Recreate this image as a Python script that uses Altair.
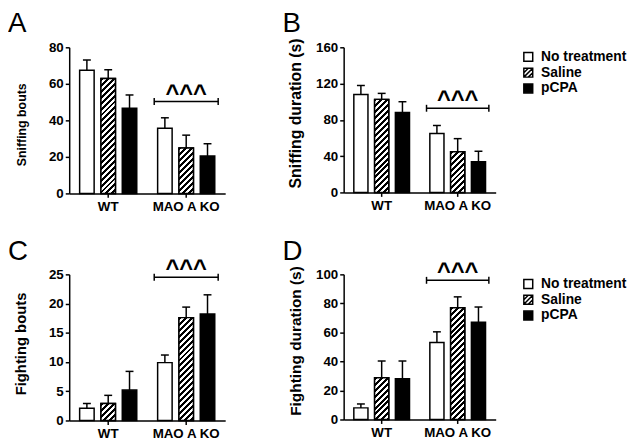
import math
import altair as alt
import pandas as pd

# ---------------- data ----------------
groups = ["WT", "MAO A KO"]
treatments = ["No treatment", "Saline", "pCPA"]

sniff_bouts_mean = [67.4, 62.9, 46.6, 35.7, 24.9, 20.5]
sniff_bouts_sem = [5.7, 4.8, 7.3, 5.7, 7.0, 6.7]
sniff_dur_mean = [108.0, 102.6, 88.0, 65.0, 44.8, 33.8]
sniff_dur_sem = [9.9, 6.6, 12.0, 8.8, 14.5, 11.6]
fight_bouts_mean = [2.1, 2.9, 5.2, 9.9, 17.6, 18.2]
fight_bouts_sem = [0.8, 1.4, 3.2, 1.3, 1.8, 3.3]
fight_dur_mean = [8.0, 28.7, 28.0, 53.0, 77.0, 67.0]
fight_dur_sem = [2.7, 11.6, 12.3, 7.4, 7.5, 10.5]

sig_group = "MAO A KO"
sig_label = "^^^"
sig_level = [50.3, 92.8, 24.5, 95.9]

panel_letters = ["A", "B", "C", "D"]
y_titles = ["Sniffing bouts", "Sniffing duration (s)", "Fighting bouts", "Fighting duration (s)"]
y_max = [80, 160, 25, 100]
y_step = [20, 40, 5, 20]

# ---------------- style ----------------
FONT = "Liberation Sans, Arial, sans-serif"
PI, PO = 0.18, 0.09          # group band padding
SPI, SPO = 0.32, 0.16        # treatment offset padding
SQ = "M-1,-1H1V1H-1Z"
HATCH = "M-1,-1H1V1H-1Z M-1,0L0,-1 M-1,1L1,-1 M0,1L1,0"


def hatch_gradient(w, h, period=6.0, frac=0.5):
    k = (w + h) / (w * w + h * h)
    n = (w + h) / period
    stops = []
    for i in range(int(math.ceil(n)) + 1):
        a = min(i / n, 1.0)
        b = min((i + frac) / n, 1.0)
        c = min((i + 1) / n, 1.0)
        stops += [
            {"offset": a, "color": "black"},
            {"offset": b, "color": "black"},
            {"offset": b, "color": "white"},
            {"offset": c, "color": "white"},
        ]
    return {"gradient": "linear", "x1": 0, "y1": 0, "x2": k * w, "y2": k * h, "stops": stops}


def make_panel(i, means, sems, width, height, title_size, title_y, legend):
    rows = []
    for gi, g in enumerate(groups):
        for ti, t in enumerate(treatments):
            kk = gi * 3 + ti
            rows.append({"group": g, "treatment": t, "mean": means[kk],
                         "upper": means[kk] + sems[kk]})
    df = pd.DataFrame(rows)
    ymax = y_max[i]

    xscale = alt.Scale(domain=groups, paddingInner=PI, paddingOuter=PO)
    xaxis = alt.Axis(title=None, labelAngle=0, tickSize=4, labelPadding=2)
    xo = alt.XOffset("treatment:N", scale=alt.Scale(domain=treatments, paddingInner=SPI, paddingOuter=SPO))
    yaxis = alt.Axis(values=list(range(0, ymax + 1, y_step[i])), title=y_titles[i],
                     titleX=-41, titleY=title_y, titleFontSize=title_size, grid=False)
    yscale = alt.Scale(domain=[0, ymax], nice=False, zero=True)

    def X(**kw):
        return alt.X("group:N", scale=xscale, axis=xaxis, title=None, **kw)

    def Y(f):
        return alt.Y(f + ":Q", scale=yscale, axis=yaxis, title=y_titles[i])

    fill_scale = alt.Scale(domain=treatments, range=["white", "white", "black"])
    base = alt.Chart(df)
    layers = []

    if legend:
        leg = alt.Legend(orient="none", legendX=180, legendY=2.7, title=None, symbolSize=81,
                         symbolStrokeWidth=1.5, symbolStrokeColor="black", labelFontSize=14,
                         labelFontWeight="bold", labelFont=FONT, labelColor="black",
                         labelOffset=6, rowPadding=0, padding=0)
        pts = base.transform_calculate(mid="datum.mean / 2").mark_point(
            size=81, strokeWidth=1.5, opacity=1, filled=True
        ).encode(
            x=X(), xOffset=xo, y=Y("mid"),
            fill=alt.Fill("treatment:N", scale=fill_scale, legend=leg),
            stroke=alt.Stroke("treatment:N",
                              scale=alt.Scale(domain=treatments, range=["black", "black", "black"]),
                              legend=leg),
            shape=alt.Shape("treatment:N", scale=alt.Scale(domain=treatments, range=[SQ, HATCH, SQ]), legend=leg),
        )
        layers.append(pts)

    bars = base.mark_bar(stroke="black", strokeWidth=1.5).encode(
        x=X(), xOffset=xo, y=Y("mean"),
        fill=alt.Fill("treatment:N", scale=fill_scale, legend=None),
    )
    layers.append(bars)

    step = width / (2 - PI + 2 * PO)
    bw = step * (1 - PI)
    barw = bw / (3 - SPI + 2 * SPO) * (1 - SPI)
    for gi, g in enumerate(groups):
        m = means[gi * 3 + 1]
        h = m / ymax * height
        hb = base.transform_filter(
            f"datum.group === '{g}' && datum.treatment === 'Saline'"
        ).mark_bar(fill=hatch_gradient(barw, h), stroke="black", strokeWidth=1.5).encode(
            x=X(), xOffset=xo, y=Y("mean"))
        layers.append(hb)

    err = base.mark_rule(color="black", strokeWidth=1.5).encode(
        x=X(), xOffset=xo, y=Y("mean"), y2=alt.Y2("upper:Q"))
    cap = base.mark_tick(orient="horizontal", size=8, thickness=1.5, color="black", opacity=1).encode(
        x=X(), xOffset=xo, y=Y("upper"))
    layers += [err, cap]

    sdf = pd.DataFrame({"group": [sig_group], "level": [sig_level[i]], "label": [sig_label]})
    sb = alt.Chart(sdf)
    br = sb.mark_rule(color="black", strokeWidth=1.5).encode(
        x=X(bandPosition=0), x2=alt.X2("group:N", bandPosition=1), y=Y("level"))
    t0 = sb.mark_tick(orient="vertical", size=7, thickness=1.5, color="black", opacity=1).encode(
        x=X(bandPosition=0), y=Y("level"))
    t1 = sb.mark_tick(orient="vertical", size=7, thickness=1.5, color="black", opacity=1).encode(
        x=X(bandPosition=1), y=Y("level"))
    car = sb.mark_text(fontSize=24, fontWeight="bold", font=FONT, baseline="alphabetic",
                       dy=-1, color="black").encode(x=X(), y=Y("level"), text="label:N")
    layers += [br, t0, t1, car]

    let = alt.Chart(pd.DataFrame({"letter": [panel_letters[i]]})).mark_text(
        align="left", baseline="alphabetic", fontSize=28, font=FONT, color="black"
    ).encode(x=alt.value(-62), y=alt.value(-15), text="letter:N")
    layers.append(let)

    return alt.layer(*layers).properties(width=width, height=height)


pA = make_panel(0, sniff_bouts_mean, sniff_bouts_sem, 158, 148, 12.5, 78, False)
pB = make_panel(1, sniff_dur_mean, sniff_dur_sem, 154, 147, 16, 66.5, True)
pC = make_panel(2, fight_bouts_mean, fight_bouts_sem, 158, 148, 15, 70, False)
pD = make_panel(3, fight_dur_mean, fight_dur_sem, 154, 147, 15.6, 67, True)

chart = alt.concat(
    pA, pB, pC, pD, columns=2, spacing={"row": 82, "column": 120}, bounds="flush"
).resolve_scale(
    fill="independent", shape="independent", stroke="independent",
    x="independent", y="independent", xOffset="independent"
).resolve_legend(
    fill="independent", shape="independent", stroke="independent"
).properties(
    padding=0
).configure_view(
    stroke=None
).configure_axis(
    labelFont=FONT, labelFontSize=13.5, labelFontWeight="bold", labelColor="black",
    titleFont=FONT, titleFontWeight="bold", titleColor="black",
    domainColor="black", domainWidth=1.5, tickColor="black", tickWidth=1.5, tickSize=4,
    grid=False, labelPadding=2
)

chart.save("out.html", embed_options={"renderer": "svg", "actions": False})
